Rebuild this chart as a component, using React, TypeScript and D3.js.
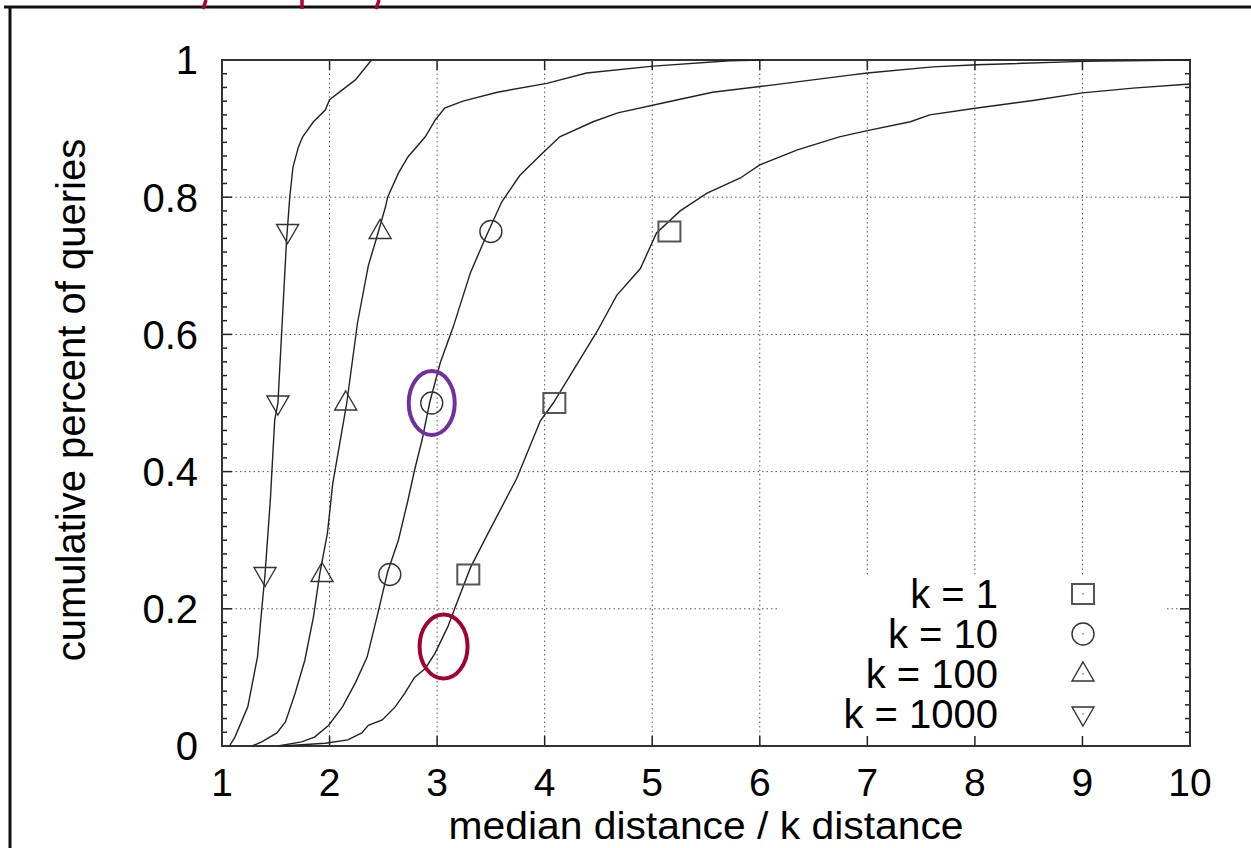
import React, { useEffect, useRef } from 'react';
import * as d3 from 'd3';

// traced curve points [median distance / k distance, cumulative fraction]
const k1Curve: [number, number][] = [
  [1.56, 0], [1.96, 0.004], [2.17, 0.009], [2.3, 0.019], [2.36, 0.03], [2.49, 0.038],
  [2.61, 0.057], [2.7, 0.077], [2.79, 0.1], [2.89, 0.113], [2.98, 0.135], [3.1, 0.174],
  [3.17, 0.203], [3.31, 0.26], [3.49, 0.315], [3.74, 0.39], [3.96, 0.474], [4.08, 0.5],
  [4.26, 0.546], [4.49, 0.605], [4.67, 0.657], [4.89, 0.696], [5.04, 0.748], [5.26, 0.78],
  [5.51, 0.806], [5.82, 0.828], [6.0, 0.847], [6.35, 0.869], [6.74, 0.888], [7.0, 0.897],
  [7.4, 0.91], [7.58, 0.92], [8.02, 0.93], [8.54, 0.941], [9.0, 0.952], [9.47, 0.959], [10, 0.965],
];
const k10Curve: [number, number][] = [
  [1.52, 0], [1.74, 0.006], [1.86, 0.013], [1.99, 0.03], [2.12, 0.057], [2.24, 0.092],
  [2.35, 0.13], [2.45, 0.194], [2.54, 0.254], [2.64, 0.3], [2.73, 0.359], [2.79, 0.402],
  [2.86, 0.446], [2.93, 0.5], [3.03, 0.559], [3.15, 0.611], [3.31, 0.69], [3.45, 0.741],
  [3.6, 0.793], [3.77, 0.832], [3.96, 0.861], [4.14, 0.888], [4.45, 0.91], [4.68, 0.923],
  [5.12, 0.938], [5.56, 0.953], [6.09, 0.963], [6.84, 0.978], [7.0, 0.981], [7.61, 0.99],
  [8.02, 0.993], [9.0, 0.998], [10, 1.0],
];
const k100Curve: [number, number][] = [
  [1.28, 0], [1.37, 0.006], [1.51, 0.019], [1.59, 0.035], [1.68, 0.077], [1.77, 0.125],
  [1.85, 0.188], [1.91, 0.252], [1.98, 0.31], [2.03, 0.383], [2.1, 0.446], [2.16, 0.5],
  [2.26, 0.617], [2.36, 0.7], [2.44, 0.742], [2.52, 0.786], [2.54, 0.8], [2.64, 0.835],
  [2.73, 0.859], [2.89, 0.888], [2.98, 0.912], [3.07, 0.93], [3.24, 0.94], [3.56, 0.953],
  [4.02, 0.966], [4.39, 0.981], [5.01, 0.991], [5.72, 0.999], [6.03, 1.0],
];
const k1000Curve: [number, number][] = [
  [1.07, 0], [1.12, 0.013], [1.24, 0.057], [1.33, 0.13], [1.37, 0.2], [1.4, 0.25],
  [1.45, 0.36], [1.49, 0.475], [1.52, 0.5], [1.6, 0.737], [1.63, 0.8], [1.66, 0.844],
  [1.71, 0.873], [1.75, 0.888], [1.85, 0.91], [1.96, 0.927], [2.0, 0.942], [2.14, 0.959],
  [2.24, 0.971], [2.39, 1.0],
];

const markerLevels = [0.25, 0.5, 0.75];
const k1Markers = [3.29, 4.09, 5.16];
const k10Markers = [2.56, 2.95, 3.5];
const k100Markers = [1.93, 2.15, 2.47];
const k1000Markers = [1.4, 1.52, 1.61];

const legendLabels = ['k = 1', 'k = 10', 'k = 100', 'k = 1000'];
const markerKinds = ['square', 'circle', 'triangle', 'nabla'];

const xTicks = [1, 2, 3, 4, 5, 6, 7, 8, 9, 10];
const yTicks = [0, 0.2, 0.4, 0.6, 0.8, 1];

const series = [
  { curve: k1Curve, markers: k1Markers },
  { curve: k10Curve, markers: k10Markers },
  { curve: k100Curve, markers: k100Markers },
  { curve: k1000Curve, markers: k1000Markers },
];

function markerPath(kind: string, cx: number, cy: number) {
  const p = d3.path();
  if (kind === 'square') {
    p.rect(cx - 11, cy - 10, 22, 20);
  } else if (kind === 'circle') {
    p.arc(cx, cy, 11, 0, Math.PI * 2);
  } else if (kind === 'triangle') {
    p.moveTo(cx, cy - 12);
    p.lineTo(cx + 11, cy + 7);
    p.lineTo(cx - 11, cy + 7);
    p.closePath();
  } else {
    p.moveTo(cx, cy + 12);
    p.lineTo(cx + 11, cy - 7);
    p.lineTo(cx - 11, cy - 7);
    p.closePath();
  }
  return p.toString();
}

export default function App() {
  const svgRef = useRef<SVGSVGElement>(null);
  const width = 1251;
  const height = 848;

  useEffect(() => {
    const svg = d3.select(svgRef.current);
    svg.selectAll('*').remove();

    const left = 222, right = 1190, top = 60, bottom = 746;
    const x = d3.scaleLinear().domain([1, 10]).range([left, right]);
    const y = d3.scaleLinear().domain([0, 1]).range([bottom, top]);
    const font = '"Liberation Sans", Arial, sans-serif';
    const fs = 40;

    // slide frame
    svg.append('path')
      .attr('d', `M4,7 H${width} M10,7 V${height}`)
      .attr('stroke', '#111').attr('stroke-width', 3).attr('fill', 'none');
    // cut-off red title fragments
    [[206, 203], [302, 302], [379, 376]].forEach(([x0, x1]) => {
      svg.append('line').attr('x1', x0).attr('y1', 0).attr('x2', x1).attr('y2', 9)
        .attr('stroke', '#b0003a').attr('stroke-width', 3.5);
    });

    // grid (legend area is kept clear)
    const grid = svg.append('g').attr('stroke', '#555').attr('stroke-width', 1)
      .attr('stroke-dasharray', '1.5,3');
    const legendTop = 575, legendLeft = 778, legendRight = 1167;
    xTicks.slice(1, -1).forEach(t => {
      const xp = x(t);
      const yEnd = xp > legendLeft && xp < legendRight ? legendTop : bottom;
      grid.append('line').attr('x1', xp).attr('x2', xp).attr('y1', top).attr('y2', yEnd);
    });
    yTicks.slice(1, -1).forEach(t => {
      const yp = y(t);
      if (yp > legendTop) {
        grid.append('line').attr('x1', left).attr('x2', legendLeft).attr('y1', yp).attr('y2', yp);
        grid.append('line').attr('x1', legendRight).attr('x2', right).attr('y1', yp).attr('y2', yp);
      } else {
        grid.append('line').attr('x1', left).attr('x2', right).attr('y1', yp).attr('y2', yp);
      }
    });

    // ticks
    const ticks = svg.append('g').attr('stroke', '#222').attr('stroke-width', 1.5);
    xTicks.forEach(t => {
      ticks.append('line').attr('x1', x(t)).attr('x2', x(t)).attr('y1', bottom).attr('y2', bottom - 10);
      ticks.append('line').attr('x1', x(t)).attr('x2', x(t)).attr('y1', top).attr('y2', top + 10);
    });
    d3.range(0, 51).forEach(i => {
      const v = i / 50;
      const len = i % 10 === 0 ? 10 : 5;
      ticks.append('line').attr('x1', left).attr('x2', left + len).attr('y1', y(v)).attr('y2', y(v));
      ticks.append('line').attr('x1', right).attr('x2', right - len).attr('y1', y(v)).attr('y2', y(v));
    });

    // plot border
    svg.append('rect')
      .attr('x', left).attr('y', top).attr('width', right - left).attr('height', bottom - top)
      .attr('fill', 'none').attr('stroke', '#333').attr('stroke-width', 2);

    // tick labels
    svg.append('g').selectAll('text').data(xTicks).enter().append('text')
      .attr('x', d => x(d)).attr('y', 796)
      .attr('text-anchor', 'middle').attr('font-family', font).attr('font-size', 39)
      .text(d => String(d));
    svg.append('g').selectAll('text').data(yTicks).enter().append('text')
      .attr('x', 198).attr('y', d => y(d)).attr('dy', '0.36em')
      .attr('text-anchor', 'end').attr('font-family', font).attr('font-size', fs)
      .text(d => (d === 0 || d === 1 ? String(d) : d.toFixed(1)));

    // axis titles
    svg.append('text')
      .attr('x', 706).attr('y', 839).attr('text-anchor', 'middle')
      .attr('font-family', font).attr('font-size', 38)
      .attr('textLength', 515).attr('lengthAdjust', 'spacingAndGlyphs')
      .text('median distance / k distance');
    svg.append('text')
      .attr('transform', `translate(85, 400) rotate(-90)`)
      .attr('text-anchor', 'middle')
      .attr('font-family', font).attr('font-size', fs)
      .text('cumulative percent of queries');

    // curves
    const line = d3.line<[number, number]>().x(d => x(d[0])).y(d => y(d[1]));
    series.forEach((s, i) => {
      svg.append('path').attr('d', line(s.curve))
        .attr('fill', 'none').attr('stroke', '#222').attr('stroke-width', 1.4);
      s.markers.forEach((mx, j) => {
        svg.append('path').attr('d', markerPath(markerKinds[i], x(mx), y(markerLevels[j])))
          .attr('fill', 'none').attr('stroke', i === 0 ? '#555' : '#333').attr('stroke-width', i === 0 ? 2 : 1.4);
      });
    });

    // legend
    legendLabels.forEach((lab, i) => {
      const ly = 594 + i * 40;
      svg.append('text')
        .attr('x', 998).attr('y', ly).attr('dy', '0.36em').attr('text-anchor', 'end')
        .attr('font-family', font).attr('font-size', fs).text(lab);
      svg.append('path').attr('d', markerPath(markerKinds[i], 1083, ly))
        .attr('fill', 'none').attr('stroke', i === 0 ? '#555' : '#333').attr('stroke-width', i === 0 ? 2 : 1.4);
      svg.append('circle').attr('cx', 1083).attr('cy', ly).attr('r', 0.8).attr('fill', '#555');
    });

    // highlight ellipses
    svg.append('ellipse')
      .attr('cx', x(2.95)).attr('cy', y(0.5)).attr('rx', 23).attr('ry', 32)
      .attr('fill', 'none').attr('stroke', '#7030a0').attr('stroke-width', 4);
    svg.append('ellipse')
      .attr('cx', x(3.06)).attr('cy', y(0.145)).attr('rx', 24).attr('ry', 32)
      .attr('fill', 'none').attr('stroke', '#a50034').attr('stroke-width', 4);
  }, []);

  return (
    <svg ref={svgRef} width={width} height={height}
      style={{ position: 'absolute', left: 0, top: 0, background: '#fff' }} />
  );
}
